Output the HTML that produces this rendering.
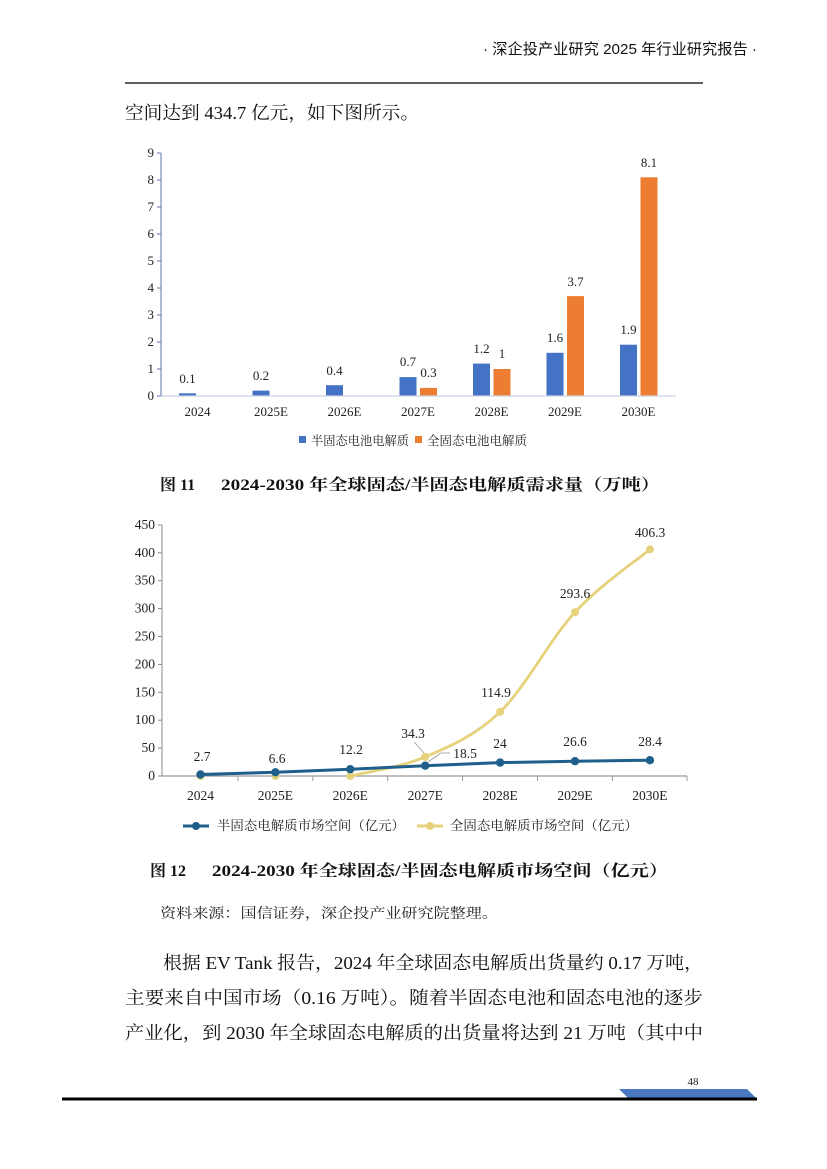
<!DOCTYPE html>
<html><head><meta charset="utf-8"><style>
html,body{margin:0;padding:0;background:#fff;}
svg{display:block;}
</style></head><body>
<svg width="827" height="1169" viewBox="0 0 827 1169" xmlns="http://www.w3.org/2000/svg">
<rect width="827" height="1169" fill="#fff"/>
<!-- header -->
<text x="483" y="54" font-family="'Liberation Sans','Noto Sans CJK SC',sans-serif" font-size="15" fill="#111" textLength="274" lengthAdjust="spacingAndGlyphs">· 深企投产业研究 2025 年行业研究报告 ·</text>
<line x1="125" y1="83" x2="703" y2="83" stroke="#000" stroke-width="1.2"/>
<text x="125" y="119" font-family="'Liberation Serif','Noto Serif CJK SC',serif" font-size="18" fill="#111" textLength="294" lengthAdjust="spacingAndGlyphs">空间达到 434.7 亿元，如下图所示。</text>

<!-- Chart 1 -->
<g font-family="'Liberation Serif','Noto Serif CJK SC',serif" font-size="13" fill="#222">
<g text-anchor="end">
<text x="154" y="400">0</text><text x="154" y="373">1</text><text x="154" y="346">2</text><text x="154" y="319">3</text><text x="154" y="292">4</text><text x="154" y="265">5</text><text x="154" y="238">6</text><text x="154" y="211">7</text><text x="154" y="184">8</text><text x="154" y="157">9</text>
</g>
<line x1="161" y1="153" x2="161" y2="396" stroke="#5b7aa8" stroke-width="1"/>
<g stroke="#5b7aa8" stroke-width="1">
<line x1="157" y1="396" x2="161" y2="396"/><line x1="157" y1="369" x2="161" y2="369"/><line x1="157" y1="342" x2="161" y2="342"/><line x1="157" y1="315" x2="161" y2="315"/><line x1="157" y1="288" x2="161" y2="288"/><line x1="157" y1="261" x2="161" y2="261"/><line x1="157" y1="234" x2="161" y2="234"/><line x1="157" y1="207" x2="161" y2="207"/><line x1="157" y1="180" x2="161" y2="180"/><line x1="157" y1="153" x2="161" y2="153"/>
</g>
<g fill="#4472c4">
<rect x="179" y="393.3" width="17" height="2.7"/>
<rect x="252.5" y="390.6" width="17" height="5.4"/>
<rect x="326" y="385.2" width="17" height="10.8"/>
<rect x="399.5" y="377.1" width="17" height="18.9"/>
<rect x="473" y="363.6" width="17" height="32.4"/>
<rect x="546.5" y="352.8" width="17" height="43.2"/>
<rect x="620" y="344.7" width="17" height="51.3"/>
</g>
<g fill="#ed7d31">
<rect x="420" y="387.9" width="17" height="8.1"/>
<rect x="493.5" y="369" width="17" height="27"/>
<rect x="567" y="296.1" width="17" height="99.9"/>
<rect x="640.5" y="177.3" width="17" height="218.7"/>
</g>
<line x1="161" y1="396" x2="676" y2="396" stroke="#c9d2e2" stroke-width="1.2"/>
<g text-anchor="middle">
<text x="187.5" y="383">0.1</text>
<text x="261" y="380">0.2</text>
<text x="334.5" y="375">0.4</text>
<text x="408" y="366">0.7</text>
<text x="428.5" y="377">0.3</text>
<text x="481.5" y="353">1.2</text>
<text x="502" y="358">1</text>
<text x="555" y="342">1.6</text>
<text x="575.5" y="286">3.7</text>
<text x="628.5" y="334">1.9</text>
<text x="649" y="167">8.1</text>
</g>
<g text-anchor="middle">
<text x="197.5" y="416">2024</text>
<text x="271" y="416">2025E</text>
<text x="344.5" y="416">2026E</text>
<text x="418" y="416">2027E</text>
<text x="491.5" y="416">2028E</text>
<text x="565" y="416">2029E</text>
<text x="638.5" y="416">2030E</text>
</g>
<rect x="299" y="436" width="7" height="7" fill="#4472c4"/>
<text x="311" y="445" font-size="12.5" textLength="98" lengthAdjust="spacingAndGlyphs">半固态电池电解质</text>
<rect x="415" y="436" width="7" height="7" fill="#ed7d31"/>
<text x="427" y="445" font-size="12.5" textLength="100" lengthAdjust="spacingAndGlyphs">全固态电池电解质</text>
</g>

<text x="160" y="490" font-family="'Liberation Serif','Noto Serif CJK SC',serif" font-size="16" font-weight="bold" fill="#111">图 11</text>
<text x="221" y="490" font-family="'Liberation Serif','Noto Serif CJK SC',serif" font-size="16" font-weight="bold" fill="#111" textLength="439" lengthAdjust="spacingAndGlyphs">2024-2030 年全球固态/半固态电解质需求量（万吨）</text>

<!-- Chart 2 -->
<g font-family="'Liberation Serif','Noto Serif CJK SC',serif" font-size="13.5" fill="#222">
<g text-anchor="end">
<text x="155" y="780">0</text><text x="155" y="752.1">50</text><text x="155" y="724.2">100</text><text x="155" y="696.3">150</text><text x="155" y="668.4">200</text><text x="155" y="640.5">250</text><text x="155" y="612.6">300</text><text x="155" y="584.7">350</text><text x="155" y="556.8">400</text><text x="155" y="529">450</text>
</g>
<line x1="162" y1="525" x2="162" y2="776" stroke="#888" stroke-width="1"/>
<g stroke="#888" stroke-width="1">
<line x1="158" y1="776" x2="162" y2="776"/><line x1="158" y1="748.1" x2="162" y2="748.1"/><line x1="158" y1="720.2" x2="162" y2="720.2"/><line x1="158" y1="692.3" x2="162" y2="692.3"/><line x1="158" y1="664.4" x2="162" y2="664.4"/><line x1="158" y1="636.5" x2="162" y2="636.5"/><line x1="158" y1="608.6" x2="162" y2="608.6"/><line x1="158" y1="580.7" x2="162" y2="580.7"/><line x1="158" y1="552.8" x2="162" y2="552.8"/><line x1="158" y1="525" x2="162" y2="525"/>
</g>
<line x1="162" y1="776" x2="687" y2="776" stroke="#999" stroke-width="1.2"/>
<g stroke="#999" stroke-width="1">
<line x1="237.9" y1="776" x2="237.9" y2="781"/><line x1="312.8" y1="776" x2="312.8" y2="781"/><line x1="387.7" y1="776" x2="387.7" y2="781"/><line x1="462.6" y1="776" x2="462.6" y2="781"/><line x1="537.5" y1="776" x2="537.5" y2="781"/><line x1="612.4" y1="776" x2="612.4" y2="781"/><line x1="687" y1="776" x2="687" y2="781"/>
</g>
<g text-anchor="middle">
<text x="200.5" y="800">2024</text>
<text x="275.4" y="800">2025E</text>
<text x="350.3" y="800">2026E</text>
<text x="425.2" y="800">2027E</text>
<text x="500.1" y="800">2028E</text>
<text x="575" y="800">2029E</text>
<text x="649.9" y="800">2030E</text>
</g>
<path d="M350.3,776 C362.8,772.8 400.2,767.6 425.2,756.9 C450.2,746.2 475.1,736 500.1,711.9 C525.1,687.8 550,639.3 575,612.2 C600,585.1 637.4,559.9 649.9,549.4" fill="none" stroke="#e5d27a" stroke-width="2.8"/>
<g fill="#e5d27a">
<circle cx="200.5" cy="776" r="4"/><circle cx="275.4" cy="776" r="4"/><circle cx="350.3" cy="776" r="4"/><circle cx="425.2" cy="756.9" r="4"/><circle cx="500.1" cy="711.9" r="4"/><circle cx="575" cy="612.2" r="4"/><circle cx="649.9" cy="549.4" r="4"/>
</g>
<polyline points="200.5,774.5 275.4,772.3 350.3,769.2 425.2,765.7 500.1,762.6 575,761.2 649.9,760.2" fill="none" stroke="#1f5f8b" stroke-width="3"/>
<g fill="#1f5f8b">
<circle cx="200.5" cy="774.5" r="4.2"/><circle cx="275.4" cy="772.3" r="4.2"/><circle cx="350.3" cy="769.2" r="4.2"/><circle cx="425.2" cy="765.7" r="4.2"/><circle cx="500.1" cy="762.6" r="4.2"/><circle cx="575" cy="761.2" r="4.2"/><circle cx="649.9" cy="760.2" r="4.2"/>
</g>
<g stroke="#999" stroke-width="0.8" fill="none">
<line x1="414" y1="742" x2="424" y2="753"/>
<line x1="428" y1="762" x2="441" y2="753"/>
<line x1="441" y1="753" x2="450" y2="753"/>
</g>
<g text-anchor="middle">
<text x="202" y="761">2.7</text>
<text x="277" y="763">6.6</text>
<text x="351" y="754">12.2</text>
<text x="465" y="758">18.5</text>
<text x="500" y="748">24</text>
<text x="575" y="746">26.6</text>
<text x="650" y="746">28.4</text>
<text x="413" y="738">34.3</text>
<text x="496" y="697">114.9</text>
<text x="575" y="598">293.6</text>
<text x="650" y="537">406.3</text>
</g>
<line x1="183" y1="826" x2="209" y2="826" stroke="#1f5f8b" stroke-width="3"/>
<circle cx="196" cy="826" r="4" fill="#1f5f8b"/>
<text x="217" y="830" font-size="13" textLength="188" lengthAdjust="spacingAndGlyphs">半固态电解质市场空间（亿元）</text>
<line x1="417" y1="826" x2="443" y2="826" stroke="#e5d27a" stroke-width="3"/>
<circle cx="430" cy="826" r="4" fill="#e5d27a"/>
<text x="450" y="830" font-size="13" textLength="188" lengthAdjust="spacingAndGlyphs">全固态电解质市场空间（亿元）</text>
</g>

<text x="150" y="876" font-family="'Liberation Serif','Noto Serif CJK SC',serif" font-size="16" font-weight="bold" fill="#111">图 12</text>
<text x="212" y="876" font-family="'Liberation Serif','Noto Serif CJK SC',serif" font-size="16" font-weight="bold" fill="#111" textLength="456" lengthAdjust="spacingAndGlyphs">2024-2030 年全球固态/半固态电解质市场空间（亿元）</text>

<text x="160" y="918" font-family="'Liberation Serif','Noto Serif CJK SC',serif" font-size="14" fill="#222" textLength="338" lengthAdjust="spacingAndGlyphs">资料来源：国信证券，深企投产业研究院整理。</text>

<g font-family="'Liberation Serif','Noto Serif CJK SC',serif" font-size="18" fill="#111">
<text x="163" y="969" textLength="540" lengthAdjust="spacingAndGlyphs">根据 EV Tank 报告，2024 年全球固态电解质出货量约 0.17 万吨，</text>
<text x="125" y="1004" textLength="578" lengthAdjust="spacingAndGlyphs">主要来自中国市场（0.16 万吨）。随着半固态电池和固态电池的逐步</text>
<text x="125" y="1039" textLength="578" lengthAdjust="spacingAndGlyphs">产业化，到 2030 年全球固态电解质的出货量将达到 21 万吨（其中中</text>
</g>

<text x="693" y="1085" font-family="'Liberation Serif',serif" font-size="11" fill="#222" text-anchor="middle">48</text>
<polygon points="619,1089 747,1089 756,1098 628,1098" fill="#4a78c0"/>
<rect x="62" y="1097.5" width="695" height="3" fill="#000"/>
</svg>
</body></html>
